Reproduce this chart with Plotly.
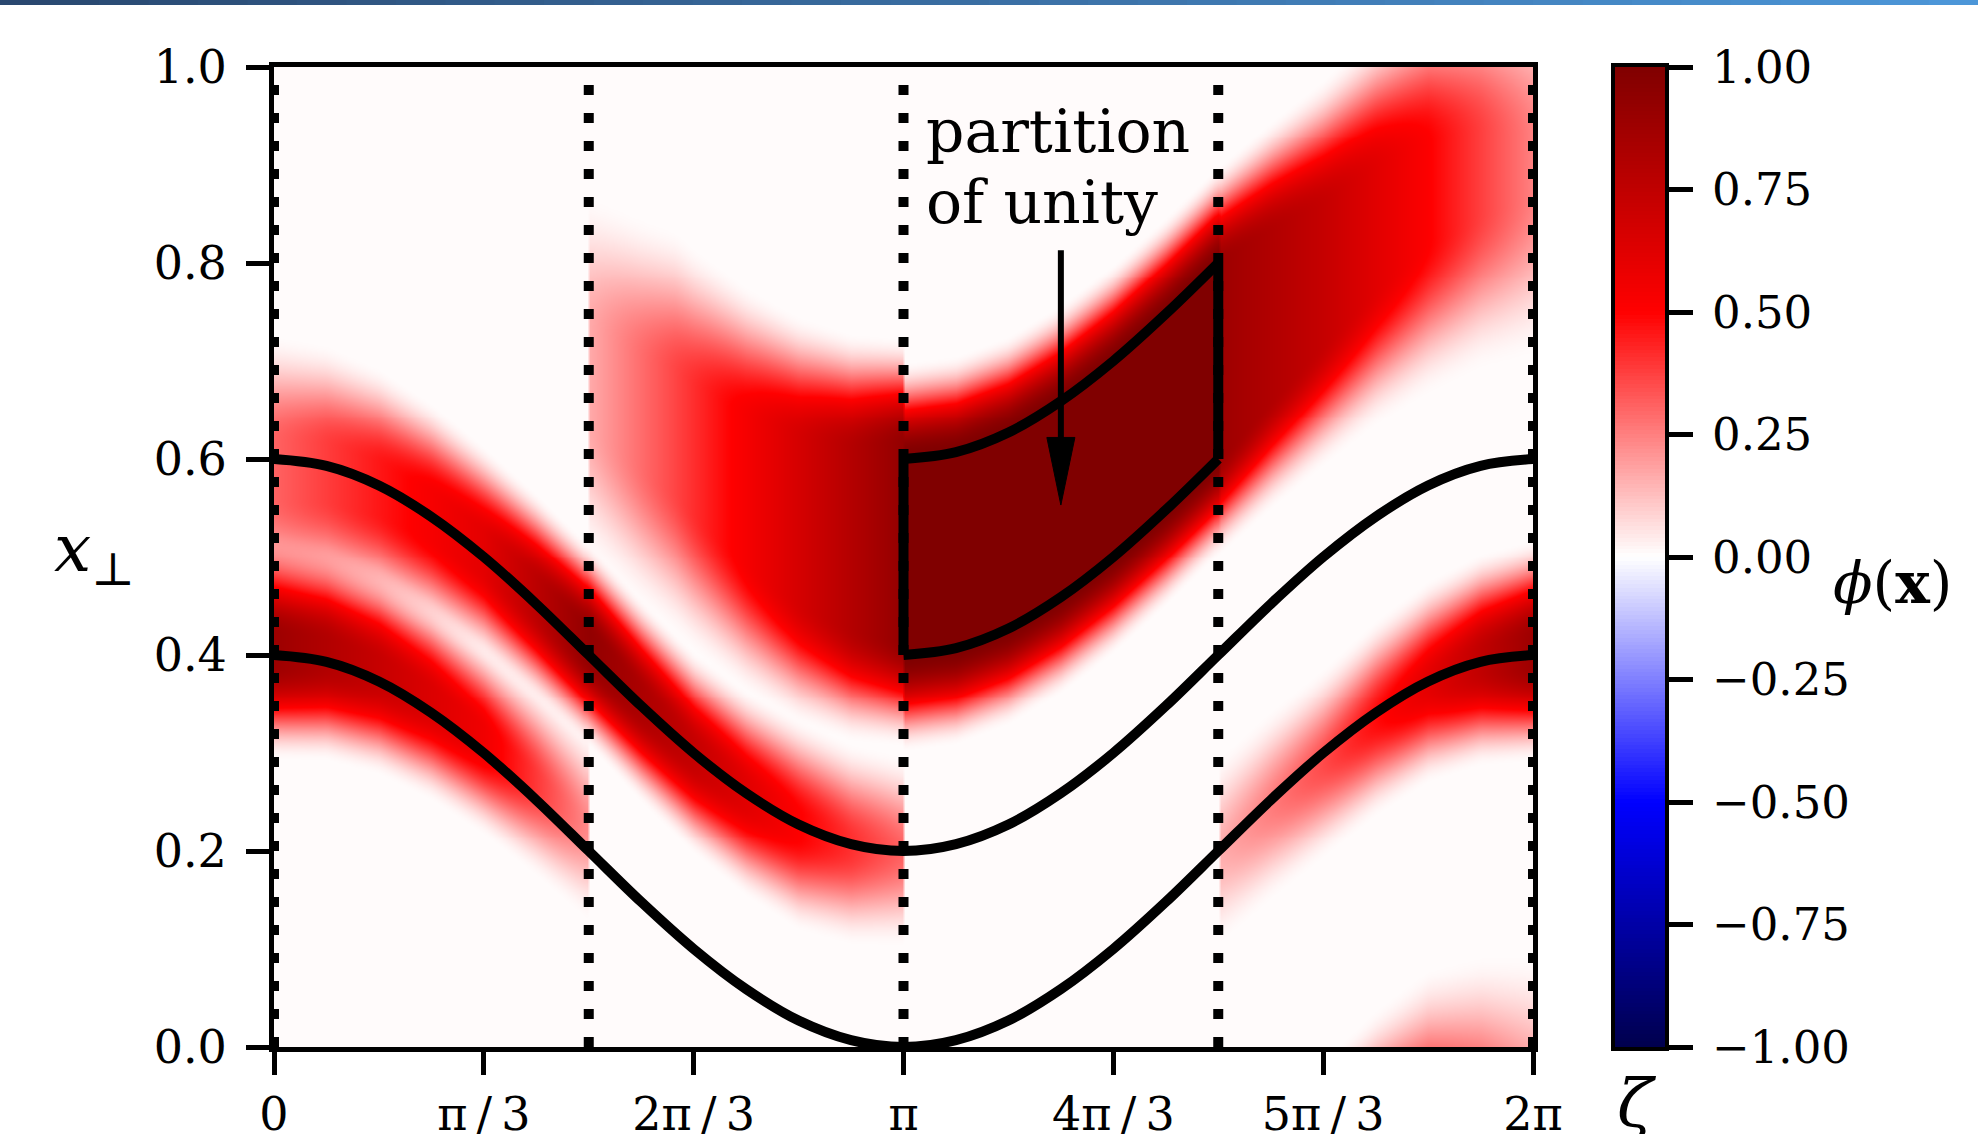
import numpy as np
import plotly.graph_objects as go

PI = np.pi

# ---------------- data ----------------
# field lines x_perp(zeta), tabulated every pi/12 from 0 to 2pi
ZETA = [k * PI / 12 for k in range(25)]
LOWER = [0.400, 0.393, 0.373, 0.341, 0.300, 0.252, 0.200, 0.148, 0.100, 0.059, 0.027, 0.007, 0.000,
         0.007, 0.027, 0.059, 0.100, 0.148, 0.200, 0.252, 0.300, 0.341, 0.373, 0.393, 0.400]
UPPER = [0.600, 0.593, 0.573, 0.541, 0.500, 0.452, 0.400, 0.348, 0.300, 0.259, 0.227, 0.207, 0.200,
         0.207, 0.227, 0.259, 0.300, 0.348, 0.400, 0.452, 0.500, 0.541, 0.573, 0.593, 0.600]

# highlighted cell (pi .. 3pi/2)
BOX_ZETA = ZETA[12:19]
BOX_BOTTOM = [0.400, 0.407, 0.427, 0.459, 0.500, 0.548, 0.600]
BOX_TOP = [0.600, 0.607, 0.627, 0.659, 0.700, 0.748, 0.800]

# poloidal planes (dotted)
PLANES = [0, PI / 2, PI, 3 * PI / 2, 2 * PI]

# bands of phi, in the field-aligned label u = x_perp - (upper curve - 0.4)
# each: zeta knots, centre u, plateau half-width, ramp width, amplitude
BAND_A = dict(zeta=[0, PI / 3, PI / 2], center=[0.207, 0.215, 0.225],
              plateau=[0.015, 0.01, 0.0], ramp=[0.1, 0.09, 0.1], amp=[0.88, 0.55, 0.22])
BAND_B = dict(zeta=[0, PI / 3, PI / 2, 2 * PI / 3, 5 * PI / 6, PI], center=[0.39, 0.405, 0.41, 0.40, 0.40, 0.40],
              plateau=[0.03, 0.02, 0.015, 0.01, 0.01, 0.0], ramp=[0.11, 0.09, 0.09, 0.095, 0.1, 0.1],
              amp=[0.30, 0.60, 0.92, 0.72, 0.50, 0.30])
BAND_C = dict(zeta=[PI / 2, 2.0, 2.5, PI], center=[0.685, 0.71, 0.71, 0.715],
              plateau=[0.05, 0.06, 0.08, 0.10], ramp=[0.14, 0.15, 0.13, 0.11], amp=[0.16, 0.36, 0.60, 0.92])
BAND_BOX = dict(zeta=[PI, 3 * PI / 2], center=[0.70, 0.70], plateau=[0.10, 0.10],
                ramp=[0.10, 0.10], amp=[1.0, 1.0])
BAND_D = dict(zeta=[3 * PI / 2, 5 * PI / 3, 11 * PI / 6, 2 * PI], center=[0.70, 0.69, 0.70, 0.70],
              plateau=[0.10, 0.07, 0.05, 0.03], ramp=[0.10, 0.13, 0.16, 0.17], amp=[0.88, 0.72, 0.50, 0.24])
BAND_E = dict(zeta=[3 * PI / 2, 5 * PI / 3, 11 * PI / 6, 2 * PI], center=[0.20, 0.19, 0.20, 0.205],
              plateau=[0.0, 0.0, 0.005, 0.015], ramp=[0.10, 0.10, 0.10, 0.1], amp=[0.15, 0.35, 0.60, 0.88])
BANDS = [BAND_A, BAND_B, BAND_C, BAND_BOX, BAND_D, BAND_E]
BACKGROUND = 0.007

X_TICKS = [0, PI / 3, 2 * PI / 3, PI, 4 * PI / 3, 5 * PI / 3, 2 * PI]
X_TICKTEXT = ["0", "π\u2009/\u20093", "2π\u2009/\u20093", "π", "4π\u2009/\u20093", "5π\u2009/\u20093", "2π"]
Y_TICKS = [0.0, 0.2, 0.4, 0.6, 0.8, 1.0]
Y_TICKTEXT = ["0.0", "0.2", "0.4", "0.6", "0.8", "1.0"]
CB_TICKS = [-1.0, -0.75, -0.5, -0.25, 0.0, 0.25, 0.5, 0.75, 1.0]
CB_TICKTEXT = ["−1.00", "−0.75", "−0.50", "−0.25", "0.00", "0.25", "0.50", "0.75", "1.00"]
CB_LEVELS = np.linspace(-1, 1, 256)

# ---------------- field on a grid ----------------
NZ, NX = 420, 330
zg = np.linspace(0, 2 * PI, NZ)
xg = np.linspace(0, 1, NX)
shift = np.interp(zg, ZETA, UPPER) - 0.4
U = xg[:, None] - shift[None, :]
Z = np.zeros_like(U)
last = 2 * PI
for b in BANDS:
    lo, hi = b["zeta"][0], b["zeta"][-1]
    m = (zg >= lo) & ((zg < hi) | (hi >= last - 1e-9))
    c = np.interp(zg, b["zeta"], b["center"])[None, :]
    p = np.interp(zg, b["zeta"], b["plateau"])[None, :]
    r = np.interp(zg, b["zeta"], b["ramp"])[None, :]
    a = np.interp(zg, b["zeta"], b["amp"])[None, :]
    best = np.zeros_like(U)
    for wrap in (-1.0, 0.0, 1.0):
        d = np.abs(U + wrap - c)
        f = np.where(d <= p, 1.0, np.where(d < p + r, np.cos(0.5 * PI * (d - p) / r) ** 2, 0.0))
        best = np.maximum(best, a * f)
    Z += best * m[None, :]
Z = np.clip(Z + BACKGROUND, -1, 1).round(3)

SEISMIC = [[0.0, "rgb(0,0,77)"], [0.25, "rgb(0,0,255)"], [0.5, "rgb(255,255,255)"],
           [0.75, "rgb(255,0,0)"], [1.0, "rgb(128,0,0)"]]

W, H = 1978, 1134
L, R, T, B = 274, 1533, 67, 1047
CB_L, CB_R = 1615, 1665
FONT = "DejaVu Serif"

fig = go.Figure()
fig.add_trace(go.Heatmap(
    x=zg, y=xg, z=Z.tolist(), colorscale=SEISMIC, zmin=-1, zmax=1, zsmooth="best",
    hoverinfo="skip", showscale=False))

# colour bar drawn as its own small axis
fig.add_trace(go.Heatmap(
    x=[0.25, 0.75], y=CB_LEVELS, z=[[v, v] for v in CB_LEVELS], colorscale=SEISMIC, zmin=-1, zmax=1,
    showscale=False, hoverinfo="skip", xaxis="x2", yaxis="y2"))

for zp in PLANES:
    fig.add_trace(go.Scatter(x=[zp, zp], y=[0, 1], mode="lines", hoverinfo="skip",
                             line=dict(color="black", width=10, dash="10px,18px"), showlegend=False))

for curve in (LOWER, UPPER):
    fig.add_trace(go.Scatter(x=ZETA, y=curve, mode="lines", hoverinfo="skip",
                             line=dict(color="black", width=10, shape="spline"), showlegend=False))

for edge in (BOX_BOTTOM, BOX_TOP):
    fig.add_trace(go.Scatter(x=BOX_ZETA, y=edge, mode="lines", hoverinfo="skip",
                             line=dict(color="black", width=10, shape="spline"), showlegend=False))
for i in (0, -1):
    fig.add_trace(go.Scatter(x=[BOX_ZETA[i], BOX_ZETA[i]], y=[BOX_BOTTOM[i], BOX_TOP[i]], mode="lines",
                             hoverinfo="skip", line=dict(color="black", width=10), showlegend=False))

# arrow (annotation geometry)
ARROW_X, ARROW_TAIL, ARROW_TIP = 5 * PI / 4, 0.813, 0.553
HEAD_LEN, HEAD_HALF = 0.069, 0.07
fig.add_shape(type="line", x0=ARROW_X, x1=ARROW_X, y0=ARROW_TAIL, y1=ARROW_TIP + HEAD_LEN * 0.5,
              line=dict(color="black", width=6), layer="above")
fig.add_shape(type="path",
              path=f"M {ARROW_X - HEAD_HALF},{ARROW_TIP + HEAD_LEN} L {ARROW_X + HEAD_HALF},{ARROW_TIP + HEAD_LEN} "
                   f"L {ARROW_X},{ARROW_TIP} Z",
              fillcolor="black", line=dict(color="black", width=1), layer="above")

ann_font = dict(family=FONT, color="black")
fig.add_annotation(text="partition", xref="paper", yref="paper", x=924 / W, y=1 - 131 / H,
                   xanchor="left", yanchor="middle", showarrow=False, font=dict(size=60, **ann_font))
fig.add_annotation(text="of unity", xref="paper", yref="paper", x=924 / W, y=1 - 202 / H,
                   xanchor="left", yanchor="middle", showarrow=False, font=dict(size=60, **ann_font))
fig.add_annotation(text="<i>x</i><sub>⊥</sub>", xref="paper", yref="paper", x=94 / W, y=1 - 553 / H,
                   xanchor="center", yanchor="middle", showarrow=False, font=dict(size=66, **ann_font))
fig.add_annotation(text="<i>ζ</i>", xref="paper", yref="paper", x=1637 / W, y=1 - 1103 / H,
                   xanchor="center", yanchor="middle", showarrow=False, font=dict(size=66, **ann_font))
fig.add_annotation(text="<i>ϕ</i>(<b>x</b>)", xref="paper", yref="paper", x=1892 / W, y=1 - 583 / H,
                   xanchor="center", yanchor="middle", showarrow=False, font=dict(size=58, **ann_font))

# thin banner along the top edge of the picture
NB = 40
for k in range(NB):
    t = k / (NB - 1)
    col = f"rgb({int(42 + t * 34)},{int(72 + t * 78)},{int(112 + t * 104)})"
    fig.add_shape(type="rect", xref="paper", yref="paper", x0=k / NB, x1=(k + 1) / NB + 0.001,
                  y0=1 - 5 / H, y1=1, fillcolor=col, line=dict(width=0), layer="above")

axis_common = dict(showgrid=False, zeroline=False, showline=True, mirror=True, linecolor="black",
                   linewidth=5, ticks="outside", ticklen=23, tickwidth=5, tickcolor="black",
                   tickfont=dict(family=FONT, size=46, color="black"))
fig.update_layout(
    width=W, height=H, margin=dict(l=0, r=0, t=0, b=0, autoexpand=False),
    paper_bgcolor="white", plot_bgcolor="white", showlegend=False,
    xaxis=dict(domain=[L / W, R / W], range=[0, 2 * PI], tickvals=X_TICKS, ticktext=X_TICKTEXT,
               ticklabelstandoff=0, **axis_common),
    yaxis=dict(domain=[1 - B / H, 1 - T / H], range=[0, 1], tickvals=Y_TICKS, ticktext=Y_TICKTEXT,
               ticklabelstandoff=10, **axis_common),
    xaxis2=dict(domain=[CB_L / W, CB_R / W], range=[0, 1], anchor="y2", showgrid=False, zeroline=False,
                showticklabels=False, ticks="", showline=True, mirror=True, linecolor="black", linewidth=4),
    yaxis2=dict(domain=[1 - B / H, 1 - T / H], range=[-1, 1], anchor="x2", side="right",
                showgrid=False, zeroline=False, showline=True, mirror=True, linecolor="black", linewidth=4,
                tickvals=CB_TICKS, ticktext=CB_TICKTEXT, ticks="outside", ticklen=24, tickwidth=5,
                tickcolor="black", ticklabelstandoff=10,
                tickfont=dict(family=FONT, size=45, color="black")),
)

fig.write_html("out.html", config={"displayModeBar": False},
               post_script="document.body.style.margin='0';document.body.style.overflow='hidden';")
